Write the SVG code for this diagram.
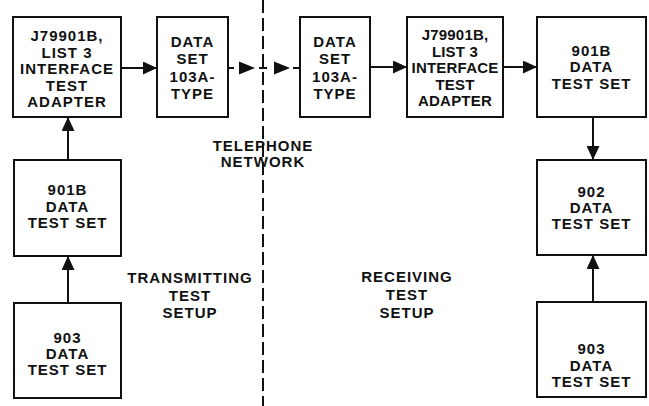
<svg xmlns="http://www.w3.org/2000/svg" width="649" height="406" viewBox="0 0 649 406">
  <style>
    .box { fill: #ffffff; stroke: #111111; stroke-width: 2; }
    .lbl { font-family: "Liberation Sans", Arial, sans-serif; font-weight: bold; font-size: 15px; letter-spacing: 1px; fill: #111111; text-anchor: middle; }
    .tight { letter-spacing: 0.2px; }
    .wire { stroke: #111111; stroke-width: 2; fill: none; }
    .head { fill: #111111; }
    .divider { stroke: #111111; stroke-width: 2; stroke-dasharray: 13 5; fill: none; }
  </style>
  <defs>
    <marker id="arrow" markerUnits="userSpaceOnUse" markerWidth="14" markerHeight="13" refX="14" refY="6.5" orient="auto">
      <path d="M0,0 L14,6.5 L0,13 z" fill="#111111"/>
    </marker>
  </defs>
  <rect width="649" height="406" fill="#ffffff"/>

  <!-- boundary between the two test setups -->
  <g id="network-boundary">
    <line class="divider" x1="263" y1="0" x2="263" y2="406"/>
  </g>

  <!-- transmitting side -->
  <g id="adapter-tx">
    <rect class="box" x="13" y="17" width="108" height="100"/>
    <text class="lbl" x="67" y="41">J79901B,</text>
    <text class="lbl" x="67" y="57.5">LIST 3</text>
    <text class="lbl" x="67" y="74">INTERFACE</text>
    <text class="lbl" x="67" y="90.5">TEST</text>
    <text class="lbl" x="67" y="107">ADAPTER</text>
  </g>
  <g id="dataset-tx">
    <rect class="box" x="157" y="17" width="71" height="100"/>
    <text class="lbl" x="192.5" y="47">DATA</text>
    <text class="lbl" x="192.5" y="64">SET</text>
    <text class="lbl" x="192.5" y="81.5">103A-</text>
    <text class="lbl" x="192.5" y="99">TYPE</text>
  </g>
  <g id="test-set-901b-tx">
    <rect class="box" x="14" y="160" width="107" height="96"/>
    <text class="lbl" x="67.5" y="195">901B</text>
    <text class="lbl" x="67.5" y="212">DATA</text>
    <text class="lbl" x="67.5" y="228">TEST SET</text>
  </g>
  <g id="test-set-903-tx">
    <rect class="box" x="14" y="303" width="107" height="95"/>
    <text class="lbl" x="67.5" y="343">903</text>
    <text class="lbl" x="67.5" y="359">DATA</text>
    <text class="lbl" x="67.5" y="375">TEST SET</text>
  </g>

  <!-- receiving side -->
  <g id="dataset-rx">
    <rect class="box" x="300" y="17" width="70" height="100"/>
    <text class="lbl" x="335" y="47">DATA</text>
    <text class="lbl" x="335" y="64">SET</text>
    <text class="lbl" x="335" y="81.5">103A-</text>
    <text class="lbl" x="335" y="99">TYPE</text>
  </g>
  <g id="adapter-rx">
    <rect class="box" x="407" y="17" width="96" height="100"/>
    <text class="lbl tight" x="455" y="40">J79901B,</text>
    <text class="lbl tight" x="455" y="56.5">LIST 3</text>
    <text class="lbl tight" x="455" y="73">INTERFACE</text>
    <text class="lbl tight" x="455" y="89.5">TEST</text>
    <text class="lbl tight" x="455" y="106">ADAPTER</text>
  </g>
  <g id="test-set-901b-rx">
    <rect class="box" x="537" y="17" width="109" height="100"/>
    <text class="lbl" x="591.5" y="55.5">901B</text>
    <text class="lbl" x="591.5" y="72">DATA</text>
    <text class="lbl" x="591.5" y="89">TEST SET</text>
  </g>
  <g id="test-set-902-rx">
    <rect class="box" x="537" y="160" width="109" height="95"/>
    <text class="lbl" x="591.5" y="197">902</text>
    <text class="lbl" x="591.5" y="213">DATA</text>
    <text class="lbl" x="591.5" y="229">TEST SET</text>
  </g>
  <g id="test-set-903-rx">
    <rect class="box" x="537" y="302" width="109" height="95"/>
    <text class="lbl" x="591.5" y="354">903</text>
    <text class="lbl" x="591.5" y="370.5">DATA</text>
    <text class="lbl" x="591.5" y="387">TEST SET</text>
  </g>

  <!-- free-standing captions -->
  <g id="captions">
    <text class="lbl" x="263" y="151">TELEPHONE</text>
    <text class="lbl" x="263" y="167">NETWORK</text>
    <text class="lbl" x="190" y="283">TRANSMITTING</text>
    <text class="lbl" x="190" y="301">TEST</text>
    <text class="lbl" x="190" y="318">SETUP</text>
    <text class="lbl" x="407" y="282">RECEIVING</text>
    <text class="lbl" x="407" y="300">TEST</text>
    <text class="lbl" x="407" y="318">SETUP</text>
  </g>

  <!-- signal paths -->
  <g id="connectors">
    <line class="wire" x1="68" y1="303" x2="68" y2="256" marker-end="url(#arrow)"/>
    <line class="wire" x1="68" y1="160" x2="68" y2="117" marker-end="url(#arrow)"/>
    <line class="wire" x1="121" y1="68" x2="157" y2="68" marker-end="url(#arrow)"/>
    <!-- dashed link through the telephone network -->
    <line class="wire" x1="228" y1="68" x2="234" y2="68"/>
    <polygon class="head" points="239,61.5 255,68 239,74.5"/>
    <line class="wire" x1="259" y1="68" x2="267" y2="68"/>
    <polygon class="head" points="274,61.5 290,68 274,74.5"/>
    <line class="wire" x1="293" y1="68" x2="300" y2="68"/>
    <line class="wire" x1="370" y1="67" x2="407" y2="67" marker-end="url(#arrow)"/>
    <line class="wire" x1="503" y1="67" x2="537" y2="67" marker-end="url(#arrow)"/>
    <line class="wire" x1="593" y1="117" x2="593" y2="160" marker-end="url(#arrow)"/>
    <line class="wire" x1="593" y1="302" x2="593" y2="255" marker-end="url(#arrow)"/>
  </g>
</svg>
